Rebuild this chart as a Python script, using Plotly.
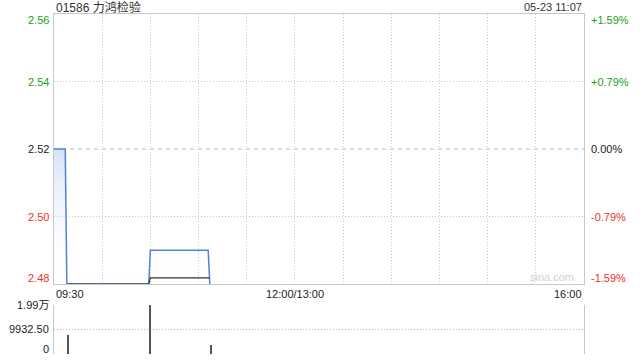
import plotly.graph_objects as go

# ---- data ----
stock_title = "01586 力鸿检验"
stamp = "05-23 11:07"
prev_close = 2.52

price_times = ["09:30", "09:37", "09:38", "10:29", "10:30", "11:06", "11:07"]
price_vals = [2.52, 2.52, 2.48, 2.48, 2.49, 2.49, 2.48]

avg_times = ["09:38", "10:29", "10:30", "11:07"]
avg_vals = [2.48, 2.48, 2.4818, 2.4818]

vol_times = ["09:39", "10:30", "11:08"]
vol_vals = [7800, 19865, 3700]

price_ticks = [2.48, 2.50, 2.52, 2.54, 2.56]
grid_times = ["09:30", "10:00", "10:30", "11:00", "11:30", "12:00", "13:30",
              "14:00", "14:30", "15:00", "15:30", "16:00"]
x_labels = [("09:30", "09:30", "left"), ("12:00", "12:00/13:00", "center"),
            ("16:00", "16:00", "right")]


def tmin(t):
    h, m = map(int, t.split(":"))
    v = h * 60 + m - (9 * 60 + 30)
    if h >= 13:
        v -= 60
    return v


px_ = [tmin(t) for t in price_times]
ax_ = [tmin(t) for t in avg_times]
vx_ = [tmin(t) for t in vol_times]
gx_ = [tmin(t) for t in grid_times]

ymin, ymax = price_ticks[0], price_ticks[-1]
vmax = max(vol_vals)

GREEN = "#1aa01a"
RED = "#f0302a"
DARK = "#222222"
FONT = "Liberation Sans, Arial, Noto Sans CJK SC, sans-serif"
DOT = "1px,2px"

fig = go.Figure()

# baseline for fill
fig.add_trace(go.Scatter(x=px_, y=[ymin] * len(px_), mode="lines",
                         line=dict(width=0, color="rgba(0,0,0,0)"),
                         hoverinfo="skip", showlegend=False, xaxis="x", yaxis="y"))
fig.add_trace(go.Scatter(
    x=px_, y=price_vals, mode="lines", fill="tonexty",
    fillgradient=dict(type="vertical", start=ymin, stop=prev_close,
                      colorscale=[[0, "rgba(255,255,255,0)"],
                                  [1, "rgba(205,222,248,0.85)"]]),
    line=dict(color="#5283d4", width=1.5), showlegend=False,
    xaxis="x", yaxis="y"))
fig.add_trace(go.Scatter(x=ax_, y=avg_vals, mode="lines",
                         line=dict(color="#333333", width=1.2),
                         showlegend=False, xaxis="x", yaxis="y"))

fig.add_trace(go.Bar(x=vx_, y=vol_vals, width=0.7,
                     marker=dict(color="#555555", line=dict(width=0)),
                     showlegend=False, xaxis="x2", yaxis="y2"))

# previous close reference line
fig.add_shape(type="line", xref="paper", yref="y", x0=0, x1=1,
              y0=prev_close, y1=prev_close,
              line=dict(color="#b8b8b8", width=1, dash="4px,4px"), layer="below")

main_bottom = 70 / 340
vol_top = 49.3 / 340

fig.update_layout(
    width=640, height=360,
    margin=dict(l=54, r=56, t=14, b=6),
    paper_bgcolor="white", plot_bgcolor="white",
    font=dict(family=FONT, size=11, color=DARK),
    bargap=0,
    xaxis=dict(domain=[0, 1], range=[0, 330], tickvals=gx_, showticklabels=False,
               showgrid=True, gridcolor="#c8c8c8", griddash=DOT, gridwidth=1,
               showline=True, linecolor="#c8c8c8", mirror=True, zeroline=False,
               ticks="", fixedrange=True),
    yaxis=dict(domain=[main_bottom, 1], range=[ymin, ymax],
               tickvals=[price_ticks[1], price_ticks[3]], showticklabels=False,
               showgrid=True, gridcolor="#c8c8c8", griddash=DOT,
               showline=True, linecolor="#c8c8c8", mirror=True, zeroline=False,
               ticks=""),
    xaxis2=dict(domain=[0, 1], range=[0, 330], anchor="y2", showticklabels=False,
                showgrid=False, showline=False, zeroline=False, ticks=""),
    yaxis2=dict(domain=[0, vol_top], range=[0, vmax], anchor="x2",
                tickvals=[0, vmax / 2, vmax], showticklabels=False,
                showgrid=True, gridcolor="#b8b8b8", griddash=DOT,
                showline=True, linecolor="#c8c8c8", mirror=True, zeroline=False,
                ticks=""),
)

ann = []
# title and timestamp
ann.append(dict(text=stock_title, xref="paper", yref="paper", x=0, y=1, yshift=7,
                xanchor="left", yanchor="middle", showarrow=False,
                font=dict(size=12, color="#333333",
                          family="Liberation Sans, Noto Sans CJK SC, sans-serif")))
ann.append(dict(text=stamp, xref="paper", yref="paper", x=1, y=1, yshift=7,
                xanchor="right", yanchor="middle", showarrow=False,
                font=dict(size=11, color="#333333")))

# price / percentage labels
for v in price_ticks:
    pct = (v - prev_close) / prev_close * 100
    if abs(pct) < 1e-9:
        col, ptxt = DARK, "0.00%"
    elif pct > 0:
        col, ptxt = GREEN, f"+{pct:.2f}%"
    else:
        col, ptxt = RED, f"{pct:.2f}%"
    ysh = 0
    if v == ymax:
        ysh = -6
    elif v == ymin:
        ysh = 6.5
    ann.append(dict(text=f"{v:.2f}", xref="paper", yref="y", x=0, y=v,
                    xanchor="right", yanchor="middle", xshift=-3, yshift=ysh,
                    showarrow=False, font=dict(size=11, color=col)))
    ann.append(dict(text=ptxt, xref="paper", yref="y", x=1, y=v,
                    xanchor="left", yanchor="middle", xshift=5, yshift=ysh,
                    showarrow=False, font=dict(size=11, color=col)))

# time labels
for t, lab, anc in x_labels:
    ann.append(dict(text=lab, xref="x", yref="paper", x=tmin(t), y=main_bottom,
                    yshift=-10, xanchor=anc, yanchor="middle", showarrow=False,
                    font=dict(size=11, color=DARK)))

# volume labels
vol_labels = [(vmax, f"{vmax / 10000:.2f}万", 0), (vmax / 2, f"{vmax / 2:.2f}", 0),
              (0, "0", 5)]
for v, lab, ysh in vol_labels:
    ann.append(dict(text=lab, xref="paper", yref="y2", x=0, y=v, xanchor="right",
                    yanchor="middle", xshift=-3, yshift=ysh, showarrow=False,
                    font=dict(size=11, color=DARK)))

# watermark
ann.append(dict(text="sina.com", xref="paper", yref="y", x=1, y=ymin,
                xanchor="right", yanchor="bottom", xshift=-8, yshift=-1,
                showarrow=False, font=dict(size=11, color="#d0d0d0")))

fig.update_layout(annotations=ann)
fig.write_html("out.html")
